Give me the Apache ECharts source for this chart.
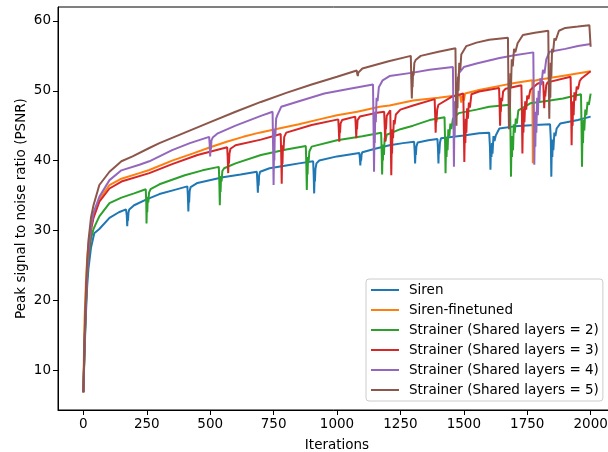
<!DOCTYPE html>
<html>
<head>
<meta charset="utf-8">
<script src="https://cdn.jsdelivr.net/npm/echarts@6/dist/echarts.min.js"></script>
<style>
html,body{margin:0;padding:0;background:#fff;}
#chart{width:608px;height:452px;}
</style>
</head>
<body>
<div id="chart"></div>
<script>
// ---- data: [iteration, PSNR] ----
const seriesNames = ["Siren", "Siren-finetuned", "Strainer (Shared layers = 2)", "Strainer (Shared layers = 3)", "Strainer (Shared layers = 4)", "Strainer (Shared layers = 5)"];
const xTicks = [0, 250, 500, 750, 1000, 1250, 1500, 1750, 2000];
const yTicks = [10, 20, 30, 40, 50, 60];

const siren = [[0,6.8],[3,10.5],[5,13],[10,18],[15,22],[20,24.5],[30,27.5],[43,29.6],[63,30.2],[103,31.8],[140,32.6],[168,33.0],[171,32.2],[173,30.6],[175,32.5],[176,31.4],[178,32.6],[181,33.0],[200,33.6],[247,34.4],[300,35.2],[360,35.8],[410,36.3],[412,35.0],[414,32.7],[416,35.2],[417,34.0],[419,35.6],[423,36.2],[450,36.8],[550,37.6],[620,38.0],[684,38.4],[686,37.0],[688,35.4],[690,37.6],[691,36.4],[693,37.9],[697,38.4],[734,38.9],[800,39.3],[850,39.6],[906,39.9],[908,38.0],[910,35.3],[912,38.4],[913,37.0],[915,38.8],[919,39.6],[930,40.0],[1000,40.6],[1088,41.1],[1090,40.4],[1092,39.3],[1094,40.7],[1095,40.0],[1097,40.9],[1100,41.2],[1150,41.7],[1207,42.2],[1260,42.5],[1304,42.7],[1306,41.5],[1308,39.6],[1310,41.8],[1311,40.8],[1313,42.0],[1318,42.6],[1360,42.9],[1396,43.1],[1398,41.8],[1400,39.6],[1402,42.3],[1403,41.0],[1406,42.6],[1410,43.2],[1500,43.6],[1560,43.9],[1600,44.0],[1603,42],[1605,38.7],[1607,42],[1609,40.5],[1611,42.5],[1613,41],[1617,43.5],[1621,42.8],[1626,43.6],[1640,44.6],[1700,44.9],[1780,45.1],[1840,45.2],[1843,43],[1845,37.7],[1847,42.5],[1849,40.5],[1851,43],[1853,41.5],[1857,44],[1861,43.5],[1866,44.6],[1880,45.3],[1950,45.8],[2000,46.3]];

const sirenFinetuned = [[0,6.8],[3,14],[5,17.5],[10,22.5],[15,26],[20,28],[30,30.5],[40,32.0],[63,34.4],[103,36.5],[150,37.4],[221,38.2],[260,38.65],[350,40.0],[430,41.0],[500,41.9],[565,42.7],[630,43.4],[694,44.0],[734,44.3],[850,45.2],[930,45.9],[1000,46.5],[1080,47.0],[1168,47.7],[1207,47.9],[1300,48.6],[1400,49.0],[1485,49.4],[1490,48.3],[1494,49.3],[1500,48.6],[1505,49.6],[1560,50.1],[1641,50.7],[1700,51.1],[1770,51.5],[1771,46],[1772,39.6],[1773,45],[1774,51.4],[1800,51.6],[1900,52.2],[2000,52.8]];

const strainer2 = [[0,6.8],[5,13.5],[10,19],[15,23.5],[20,26],[30,28.8],[40,30.2],[50,31.0],[63,32.0],[103,33.9],[150,34.7],[200,35.3],[246,35.9],[248,34],[249,31.0],[251,34.2],[252,32.6],[254,34.8],[256,34.0],[259,35.4],[265,35.9],[300,36.6],[400,37.9],[470,38.6],[534,39.1],[536,37],[538,33.6],[540,37.2],[541,35.5],[543,37.8],[545,37.0],[548,38.5],[555,38.9],[600,39.6],[700,40.8],[800,41.6],[877,42.1],[879,39.5],[881,35.8],[883,39.8],[884,38.0],[886,40.5],[888,39.8],[891,41.3],[900,42],[1000,42.9],[1100,43.5],[1174,44.0],[1176,41.5],[1178,38.0],[1180,41.8],[1181,40.0],[1183,42.3],[1185,40.8],[1188,43.3],[1191,42.8],[1196,43.7],[1250,44.5],[1300,45.0],[1365,45.8],[1424,46.2],[1426,43],[1428,38.2],[1430,42.8],[1432,40.5],[1434,43.3],[1436,41.5],[1439,44.5],[1443,43.5],[1447,45.3],[1451,44.5],[1457,46],[1480,46.8],[1550,47.3],[1600,47.7],[1682,48.0],[1684,44],[1686,37.7],[1688,42.8],[1690,40.5],[1692,43.5],[1694,41.5],[1697,45.2],[1701,44],[1705,46],[1709,45.3],[1715,47.2],[1762,48.2],[1820,48.5],[1891,48.9],[1962,49.5],[1964,45],[1966,39.1],[1968,44.5],[1970,42.5],[1972,45.8],[1975,44.3],[1979,47.3],[1983,46.5],[1988,48.4],[1993,48.0],[2000,49.6]];

const strainer3 = [[0,6.8],[3,11],[5,14],[10,19.5],[15,24],[20,26.5],[30,30],[40,31.8],[63,34.1],[103,36.0],[150,37.0],[260,38.2],[350,39.5],[450,40.8],[567,41.9],[569,40.5],[571,38.2],[573,40.6],[574,39.6],[576,41.0],[580,41.7],[600,42.2],[700,43.0],[778,43.8],[780,41],[782,36.7],[784,41.2],[785,39.5],[787,42.2],[789,41.5],[792,43.4],[800,44.0],[900,45.1],[1005,45.9],[1007,44.5],[1009,42.7],[1011,45],[1012,44],[1014,45.3],[1020,45.8],[1072,46.3],[1074,45],[1076,43.2],[1078,45.5],[1079,44.5],[1081,45.8],[1090,46.3],[1150,46.8],[1186,47.0],[1188,45],[1190,42.7],[1192,45.5],[1193,44.5],[1196,46.4],[1210,47.2],[1212,43],[1214,37.9],[1216,43],[1217,41],[1219,44.5],[1221,43.2],[1224,45.8],[1227,45.2],[1232,46.6],[1250,47.3],[1300,47.9],[1385,48.8],[1387,46.5],[1389,44.0],[1391,46.5],[1392,45.5],[1395,47.3],[1400,48.0],[1450,49.1],[1498,49.6],[1500,45],[1502,39.8],[1504,44.5],[1506,42.5],[1508,46],[1510,44],[1513,47.5],[1516,46],[1520,48.3],[1524,47.6],[1530,49.5],[1560,49.9],[1639,50.4],[1641,48],[1643,45.0],[1645,48.2],[1646,47],[1648,49],[1651,48.5],[1655,49.9],[1665,50.3],[1727,50.8],[1729,47],[1731,41.0],[1733,46.2],[1735,44],[1737,47.5],[1739,45.5],[1742,48.5],[1746,47.3],[1750,49.3],[1755,48.8],[1762,50.1],[1790,51.0],[1813,51.3],[1815,49.5],[1817,47.5],[1819,50],[1821,49.2],[1825,50.8],[1830,51.2],[1921,52.0],[1923,48],[1925,42.2],[1927,47.2],[1929,45],[1931,48.5],[1933,46.5],[1936,49.8],[1940,48.6],[1945,50.6],[1950,50.2],[1957,51.4],[1965,51.8],[2000,52.8]];

const strainer4 = [[0,6.8],[5,14],[10,19.5],[15,24],[20,27],[30,30.5],[40,32.5],[63,34.8],[103,37.2],[150,38.6],[221,39.4],[260,39.9],[350,41.5],[420,42.5],[496,43.4],[498,42.3],[500,40.6],[502,42.5],[503,41.6],[505,42.9],[510,43.3],[530,43.9],[600,45.0],[700,46.4],[746,47.0],[748,42],[750,36.5],[752,42.3],[753,40],[755,44.5],[757,43.5],[760,46],[765,46.5],[780,47.7],[850,48.5],[950,49.6],[1050,50.3],[1142,50.9],[1144,45],[1146,38.4],[1148,45],[1149,42.5],[1151,47],[1153,45.5],[1156,49],[1160,48.5],[1165,50.5],[1180,51.5],[1207,52.1],[1300,52.6],[1365,53.0],[1457,53.4],[1459,47],[1461,39.1],[1463,46],[1464,43.5],[1466,48.5],[1468,47],[1471,50.8],[1475,50],[1480,52.5],[1500,53.4],[1550,53.9],[1641,54.7],[1700,55.1],[1774,55.5],[1776,48],[1778,39.4],[1780,45.5],[1782,42],[1784,47],[1786,44],[1789,49],[1792,46.5],[1795,50],[1798,48.5],[1802,51.8],[1806,50.8],[1812,53],[1818,52.5],[1825,54.5],[1838,55.6],[1900,56.0],[1950,56.4],[2000,56.7]];

const strainer5 = [[0,6.8],[5,15],[10,21],[15,25.5],[20,28.5],[30,31.8],[40,33.6],[63,36.5],[103,38.4],[150,39.9],[194,40.6],[260,41.8],[300,42.5],[400,44.0],[500,45.5],[600,47.0],[700,48.4],[800,49.7],[900,50.9],[1000,52.0],[1078,52.9],[1080,52.4],[1082,52.1],[1084,52.6],[1086,52.8],[1100,53.2],[1200,54.2],[1291,55.0],[1293,51.5],[1295,48.9],[1297,51.5],[1298,50.5],[1300,52.8],[1302,52.2],[1305,54],[1310,54.4],[1330,55.0],[1400,55.6],[1467,56.1],[1469,50],[1471,45],[1473,50],[1475,47.5],[1477,52],[1479,50],[1482,54],[1486,53],[1490,55.2],[1495,55],[1510,56.4],[1550,56.9],[1600,57.3],[1674,57.6],[1676,50],[1678,44.5],[1680,50],[1682,47.5],[1684,52.5],[1686,50.5],[1689,54.5],[1693,53.5],[1698,56],[1703,55.5],[1712,56.8],[1733,58.0],[1780,58.3],[1833,58.6],[1835,51],[1837,46],[1839,51.5],[1841,49],[1843,54],[1845,52],[1848,56],[1852,55.5],[1857,57.5],[1862,57.2],[1875,58.6],[1900,59.0],[1950,59.2],[1995,59.4],[2000,56.3]];

const seriesData = [siren, sirenFinetuned, strainer2, strainer3, strainer4, strainer5];
const colors = ["#1f77b4", "#ff7f0e", "#2ca02c", "#d62728", "#9467bd", "#8c564b"];

const font = "DejaVu Sans";
const fs = 13.5;
const chart = echarts.init(document.getElementById('chart'), null, {renderer: 'canvas'});
chart.setOption({
  animation: false,
  backgroundColor: '#fff',
  textStyle: {fontFamily: font},
  grid: {left: 58, top: 7, width: 558, height: 403, show: true, borderColor: '#000', borderWidth: 1, backgroundColor: 'transparent', containLabel: false, outerBoundsMode: 'none'},
  legend: {
    orient: 'vertical', left: 366, top: 279,
    data: seriesNames,
    icon: 'rect',
    itemWidth: 28, itemHeight: 2, itemGap: 6,
    textStyle: {fontFamily: font, fontSize: fs, color: '#000', lineHeight: 14, padding: [0, 0, 0, 5]},
    backgroundColor: 'rgba(255,255,255,0.8)', borderColor: '#cccccc', borderWidth: 1, borderRadius: 3,
    padding: [4, 4, 4, 5]
  },
  xAxis: {
    type: 'value', min: -100, max: 2100,
    name: 'Iterations', nameLocation: 'middle', nameGap: 28,
    nameTextStyle: {fontFamily: font, fontSize: fs, color: '#000'},
    axisLine: {show: true, onZero: false, lineStyle: {color: '#000', width: 1}},
    axisTick: {show: true, length: 5, customValues: xTicks, lineStyle: {color: '#000'}},
    axisLabel: {customValues: xTicks, formatter: v => String(v), fontFamily: font, fontSize: fs, color: '#000', margin: 7},
    splitLine: {show: false}
  },
  yAxis: {
    type: 'value', min: 4.27, max: 62.0,
    name: 'Peak signal to noise ratio (PSNR)', nameLocation: 'middle', nameGap: 30, nameMoveOverlap: false,
    nameTextStyle: {fontFamily: font, fontSize: fs, color: '#000'},
    axisLine: {show: true, onZero: false, lineStyle: {color: '#000', width: 1}},
    axisTick: {show: true, length: 5, customValues: yTicks, lineStyle: {color: '#000'}},
    axisLabel: {customValues: yTicks, formatter: v => String(v), fontFamily: font, fontSize: fs, color: '#000', margin: 7},
    splitLine: {show: false}
  },
  series: seriesNames.map((n, i) => ({
    name: n, type: 'line', data: seriesData[i], showSymbol: false, symbol: 'none',
    color: colors[i], lineStyle: {width: 2, color: colors[i]}, smooth: false, z: 2 + i
  }))
});
</script>
</body>
</html>
